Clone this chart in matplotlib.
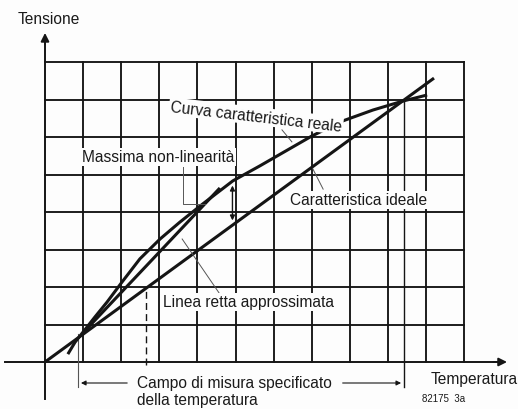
import matplotlib
matplotlib.use("Agg")
import matplotlib.pyplot as plt
import numpy as np

# ---- data (grid units: x = temperature cells, y = voltage cells) ----
grid_cols = 11
grid_rows = 8

real_x = [0.60, 0.79, 1.00, 1.31, 1.63, 2.02, 2.49, 3.02, 3.54, 4.07, 4.93, 5.64, 7.01, 7.82, 8.61, 9.40, 10.03]
real_y = [0.21, 0.53, 0.80, 1.20, 1.60, 2.13, 2.75, 3.28, 3.73, 4.16, 4.83, 5.23, 6.03, 6.43, 6.72, 6.96, 7.12]

ideal_x = [0.0, 10.21]
ideal_y = [0.0, 7.57]

approx_x = [1.02, 4.59]
approx_y = [0.80, 4.64]

range_start = 0.87
range_end = 9.42

ink = "#151515"
txt = "#1a1a1a"
thin = "#555555"

fig = plt.figure(figsize=(5.18, 4.10), dpi=100)
fig.patch.set_facecolor("#fdfdfd")
ax = fig.add_axes([0, 0, 1, 1])
ax.set_facecolor("#fdfdfd")
px_w, px_h = 518, 410
ox, oy, cw, ch = 45, 363, 38.1, 37.5
ax.set_xlim(-ox / cw, (px_w - ox) / cw)
ax.set_ylim((oy - px_h) / ch, oy / ch)
ax.axis("off")

# grid
for k in range(1, grid_cols + 1):
    ax.plot([k, k], [0, grid_rows], color=ink, lw=1.35, zorder=1)
for j in range(1, grid_rows + 1):
    ax.plot([0, grid_cols], [j, j], color=ink, lw=1.35, zorder=1)

# axes with arrows
ax.plot([0, 0], [-0.99, 8.6], color=ink, lw=1.4, zorder=2)
ax.annotate("", xy=(0, 8.85), xytext=(0, 8.4),
            arrowprops=dict(arrowstyle="-|>", color=ink, lw=1.4, mutation_scale=12), zorder=2)
ax.plot([-1.05, 11.9], [0, 0], color=ink, lw=1.4, zorder=2)
ax.annotate("", xy=(12.2, 0), xytext=(11.7, 0),
            arrowprops=dict(arrowstyle="-|>", color=ink, lw=1.4, mutation_scale=12), zorder=2)

# curves
ax.plot(ideal_x, ideal_y, color=ink, lw=2.2, zorder=3, solid_capstyle="butt")
ax.plot(real_x, real_y, color=ink, lw=2.2, zorder=3, solid_capstyle="butt", solid_joinstyle="round")
ax.plot(approx_x, approx_y, color=ink, lw=2.2, zorder=3, solid_capstyle="butt")

# dashed vertical
ax.plot([2.65, 2.65], [-0.08, 1.97], color=ink, lw=1.0, ls=(0, (5, 3)), zorder=2)

# measuring range
ax.plot([range_start, range_start], [-0.67, 0.75], color=thin, lw=0.8, zorder=2)
ax.plot([range_end, range_end], [-0.67, 6.96], color=ink, lw=1.0, zorder=2)
ax.annotate("", xy=(range_start, -0.56), xytext=(2.23, -0.56),
            arrowprops=dict(arrowstyle="-|>", color=ink, lw=0.8, mutation_scale=7), zorder=2)
ax.annotate("", xy=(range_end, -0.56), xytext=(7.74, -0.56),
            arrowprops=dict(arrowstyle="-|>", color=ink, lw=0.8, mutation_scale=7), zorder=2)

# max non-linearity double arrow
ax.annotate("", xy=(4.92, 3.70), xytext=(4.92, 4.78),
            arrowprops=dict(arrowstyle="<|-|>", color=ink, lw=1.0, mutation_scale=7), zorder=4)

# leader lines
ax.plot([3.62, 3.62, 4.20], [5.20, 4.21, 4.21], color=thin, lw=0.7, zorder=4)
ax.plot([6.22, 6.48], [6.19, 5.87], color=thin, lw=0.7, zorder=4)
ax.plot([7.03, 7.30], [5.15, 4.61], color=thin, lw=0.7, zorder=4)
ax.plot([3.60, 4.59], [3.28, 1.81], color=thin, lw=0.7, zorder=4)

fam = ["Liberation Sans", "DejaVu Sans"]
fs = 11.2
wb = dict(facecolor="#fdfdfd", edgecolor="none", pad=1.0)

ax.text(-0.73, 9.17, "Tensione", fontsize=fs, family=fam, color=txt, va="center", ha="left")
ax.text(0.97, 5.47, "Massima non-linearità", fontsize=fs, family=fam, color=txt,
        va="center", ha="left", bbox=wb, zorder=5)
ax.text(5.54, 6.56, "Curva caratteristica reale", fontsize=fs, family=fam, color=txt,
        va="center", ha="center", rotation=-6.6, rotation_mode="anchor", bbox=wb, zorder=5)
ax.text(8.24, 4.32, "Caratteristica ideale", fontsize=fs, family=fam, color=txt,
        va="center", ha="center", bbox=wb, zorder=5)
ax.text(3.10, 1.60, "Linea retta approssimata", fontsize=fs, family=fam, color=txt,
        va="center", ha="left", bbox=wb, zorder=5)
ax.text(2.41, -0.56, "Campo di misura specificato", fontsize=fs, family=fam, color=txt,
        va="center", ha="left", zorder=5)
ax.text(2.41, -1.01, "della temperatura", fontsize=fs, family=fam, color=txt,
        va="center", ha="left", zorder=5)
ax.text(10.13, -0.43, "Temperatura", fontsize=fs, family=fam, color=txt, va="center", ha="left")
ax.text(9.9, -0.96, "82175  3a", fontsize=7, family=fam, color=txt, va="center", ha="left")

fig.savefig("out.png", dpi=100, facecolor=fig.get_facecolor())
